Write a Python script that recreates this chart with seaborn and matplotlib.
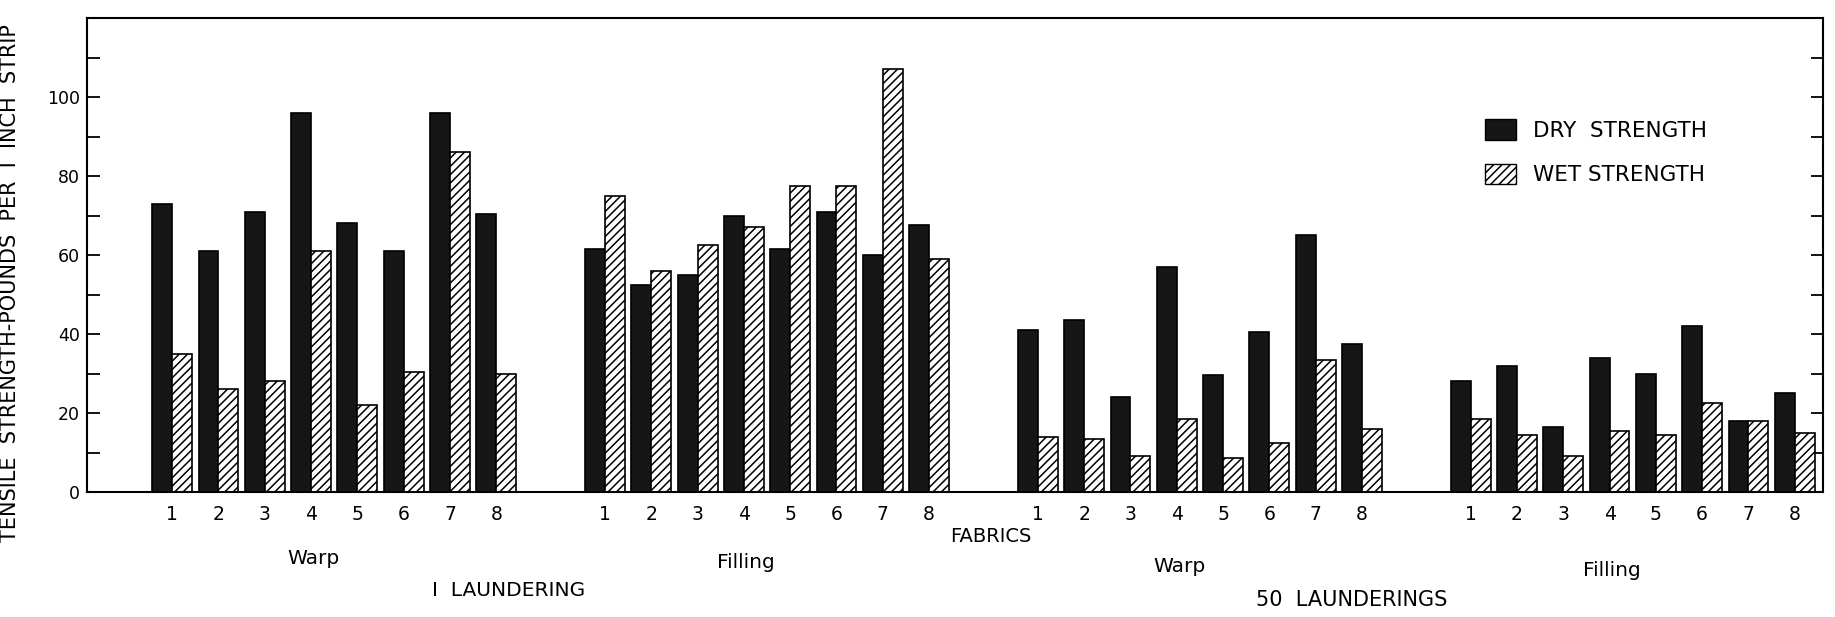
import matplotlib
matplotlib.use("Agg")
import matplotlib.pyplot as plt
import matplotlib.transforms as mtransforms
from matplotlib.patches import Patch
import seaborn as sns
import pandas as pd

# ---------------- data ----------------
fabrics = ["1", "2", "3", "4", "5", "6", "7", "8"]
group_names = ["Warp", "Filling", "Warp", "Filling"]
launderings = ["I  LAUNDERING", "50  LAUNDERINGS"]
series_names = ["DRY  STRENGTH", "WET STRENGTH"]

dry_1_warp = [73, 61, 71, 96, 68, 61, 96, 70.5]
wet_1_warp = [35, 26, 28, 61, 22, 30.5, 86, 30]
dry_1_filling = [61.5, 52.5, 55, 70, 61.5, 71, 60, 67.5]
wet_1_filling = [75, 56, 62.5, 67, 77.5, 77.5, 107, 59]
dry_50_warp = [41, 43.5, 24, 57, 29.5, 40.5, 65, 37.5]
wet_50_warp = [14, 13.5, 9, 18.5, 8.5, 12.5, 33.5, 16]
dry_50_filling = [28, 32, 16.5, 34, 30, 42, 18, 25]
wet_50_filling = [18.5, 14.5, 9, 15.5, 14.5, 22.5, 18, 15]

dry_groups = [dry_1_warp, dry_1_filling, dry_50_warp, dry_50_filling]
wet_groups = [wet_1_warp, wet_1_filling, wet_50_warp, wet_50_filling]

y_ticks_major = [0, 20, 40, 60, 80, 100]

# ---------------- layout ----------------
GROUP_STEP = 9.35
rows = []
for g in range(4):
    for i, f in enumerate(fabrics):
        pos = round(g * GROUP_STEP + i, 3)
        rows.append({"pos": pos, "kind": series_names[0], "value": dry_groups[g][i], "fabric": f})
        rows.append({"pos": pos, "kind": series_names[1], "value": wet_groups[g][i], "fabric": f})
df = pd.DataFrame(rows)

sns.set_theme(style="white")
plt.rcParams["font.family"] = ["DejaVu Sans"]
plt.rcParams["hatch.linewidth"] = 1.1
plt.rcParams["text.color"] = "black"
plt.rcParams["axes.labelcolor"] = "black"
plt.rcParams["xtick.color"] = "black"
plt.rcParams["ytick.color"] = "black"

W, H = 1835, 617
fig = plt.figure(figsize=(W / 100, H / 100), dpi=100)
ax_left, ax_right, ax_top, ax_bottom = 87, 1823, 18, 492
ax = fig.add_axes([ax_left / W, 1 - ax_bottom / H, (ax_right - ax_left) / W, (ax_bottom - ax_top) / H])

sns.barplot(
    data=df, x="pos", y="value", hue="kind", hue_order=series_names,
    native_scale=True, palette={series_names[0]: "#161616", series_names[1]: "white"},
    edgecolor="black", linewidth=1.2, width=0.86, saturation=1, ax=ax, legend=False,
)

# hatch the wet bars
for bar in ax.containers[1]:
    bar.set_hatch("////")
    bar.set_facecolor("white")
    bar.set_edgecolor("black")

# axes
ax.set_ylim(0, 120)
ax.set_xlim(-1.84, 35.66)
for s in ax.spines.values():
    s.set_visible(True)
    s.set_color("black")
    s.set_linewidth(1.5)

ax.yaxis.set_major_locator(plt.FixedLocator(y_ticks_major))
ax.yaxis.set_minor_locator(plt.FixedLocator([10, 30, 50, 70, 90, 110]))
ax.set_yticklabels([str(v) for v in y_ticks_major])
ax.tick_params(axis="y", which="both", direction="in", right=True, left=True,
               length=9, width=1.3, color="black", labelsize=12.5, pad=5)

positions = [round(g * GROUP_STEP + i, 3) for g in range(4) for i in range(8)]
ax.set_xticks(positions)
ax.set_xticklabels(fabrics * 4)
ax.tick_params(axis="x", length=0, labelsize=13.5, pad=9)
ax.set_xlabel("")
ax.set_ylabel("TENSILE  STRENGTH-POUNDS  PER  I  INCH  STRIP", fontsize=15)
ax.yaxis.set_label_coords(-(ax_left - 20) / (ax_right - ax_left), (ax_bottom - 283) / (ax_bottom - ax_top))

# group and category labels
trans = mtransforms.blended_transform_factory(ax.transData, ax.transAxes)
ah = ax_bottom - ax_top
def yax(ypix):
    return (ax_bottom - ypix) / ah

group_label_y = [559, 563, 567, 571]
for g in range(4):
    center = g * GROUP_STEP + 3.5
    ax.text(center - 0.45, yax(group_label_y[g]), group_names[g], transform=trans,
            ha="center", va="center", fontsize=14.5)

ax.text((0 + 3 * GROUP_STEP + 7) / 2 + 0.15, yax(536), "FABRICS", transform=trans,
        ha="center", va="center", fontsize=14)
ax.text((3.5 + GROUP_STEP + 3.5) / 2 - 0.9, yax(591), launderings[0], transform=trans,
        ha="center", va="center", fontsize=14.5)
ax.text((2 * GROUP_STEP + 3.5 + 3 * GROUP_STEP + 3.5) / 2 - 1.4, yax(600), launderings[1], transform=trans,
        ha="center", va="center", fontsize=15)

# legend
handles = [
    Patch(facecolor="#161616", edgecolor="black", label=series_names[0]),
    Patch(facecolor="white", edgecolor="black", hatch="////", label=series_names[1]),
]
fig.legend(handles=handles, loc="upper left",
           bbox_to_anchor=(1466 / W, 1 - 100 / H), frameon=False, fontsize=15.5,
           handlelength=1.4, handleheight=1.1, handletextpad=0.8, labelspacing=1.05)

fig.savefig("out.png", dpi=100, facecolor="white")
